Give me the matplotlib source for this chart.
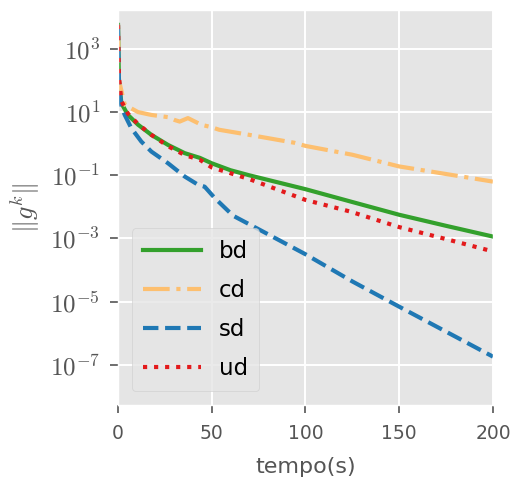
import matplotlib
matplotlib.use('Agg')
import matplotlib.pyplot as plt
import numpy as np

# tempo (s) and log10 ||g^k||
t_bd = [0, 0.5, 1.8, 5.3, 10.7, 17.8, 26.7, 35.6, 43.7, 50, 60, 70, 85, 100, 124, 150, 175, 200]
g_bd = [3.76, 2.0, 1.28, 0.91, 0.60, 0.28, -0.04, -0.30, -0.45, -0.62, -0.84, -1.0, -1.22, -1.44, -1.83, -2.25, -2.60, -2.94]

t_cd = [0, 0.5, 3.6, 7.0, 10.7, 17.8, 26.7, 30.2, 32.9, 37.3, 44.4, 50, 54, 70, 94, 100, 125, 150, 175, 200]
g_cd = [3.76, 2.0, 1.23, 1.12, 1.0, 0.91, 0.84, 0.75, 0.70, 0.81, 0.60, 0.52, 0.44, 0.28, 0.03, -0.07, -0.35, -0.72, -0.96, -1.20]

t_sd = [0, 0.5, 1.8, 3.6, 7.1, 12.4, 17.8, 26.7, 35.6, 42.7, 46.2, 51.6, 61.4, 75.7, 100, 125, 150, 175, 200]
g_sd = [3.76, 2.0, 1.17, 0.91, 0.49, 0.07, -0.25, -0.62, -1.04, -1.30, -1.36, -1.72, -2.28, -2.73, -3.50, -4.36, -5.16, -5.95, -6.74]

t_ud = [0, 0.5, 1.8, 5.3, 10.7, 17.8, 26.7, 35.6, 43.7, 50, 70, 100, 124, 150, 175, 200]
g_ud = [3.76, 2.1, 1.35, 0.95, 0.62, 0.28, -0.08, -0.36, -0.51, -0.75, -1.12, -1.78, -2.15, -2.64, -3.02, -3.41]

plt.style.use('ggplot')
plt.rcParams['mathtext.fontset'] = 'cm'

fig = plt.figure(figsize=(5.14, 4.9), dpi=100)
ax = fig.add_axes([0.2296, 0.1735, 0.7295, 0.806])

ax.plot(t_bd, 10.0 ** np.array(g_bd), '-', color='#33a02c', lw=3, label='bd')
ax.plot(t_cd, 10.0 ** np.array(g_cd), '-.', color='#fdbf6f', lw=3, label='cd')
ax.plot(t_sd, 10.0 ** np.array(g_sd), '--', color='#1f78b4', lw=3, label='sd')
ax.plot(t_ud, 10.0 ** np.array(g_ud), ':', color='#e31a1c', lw=3, label='ud')

ax.set_yscale('log')
ax.set_xlim(0, 200)
ax.set_ylim(10 ** -8.27, 10 ** 4.23)
ax.set_xticks([0, 50, 100, 150, 200])
ax.set_yticks([1e-7, 1e-5, 1e-3, 1e-1, 1e1, 1e3])
ax.set_yticklabels([r'$10^{-7}$', r'$10^{-5}$', r'$10^{-3}$', r'$10^{-1}$',
                    r'$10^{1}$', r'$10^{3}$'])
ax.minorticks_off()
ax.tick_params(axis='both', colors='#555555', length=6, width=1.2)
ax.tick_params(axis='x', labelsize=13.5, pad=8)
ax.tick_params(axis='y', labelsize=18, pad=7)
ax.grid(True, color='white', lw=1.4)

ax.set_xlabel('tempo(s)', fontsize=16, color='#555555', labelpad=10)
ax.set_ylabel(r'$\|g^k\|$', fontsize=19, color='#555555', labelpad=6)

ax.legend(loc='lower left', fontsize=16.5, handlelength=2.5, labelspacing=0.7,
          borderaxespad=0.6, borderpad=0.5)

fig.savefig('out.png', dpi=100)
